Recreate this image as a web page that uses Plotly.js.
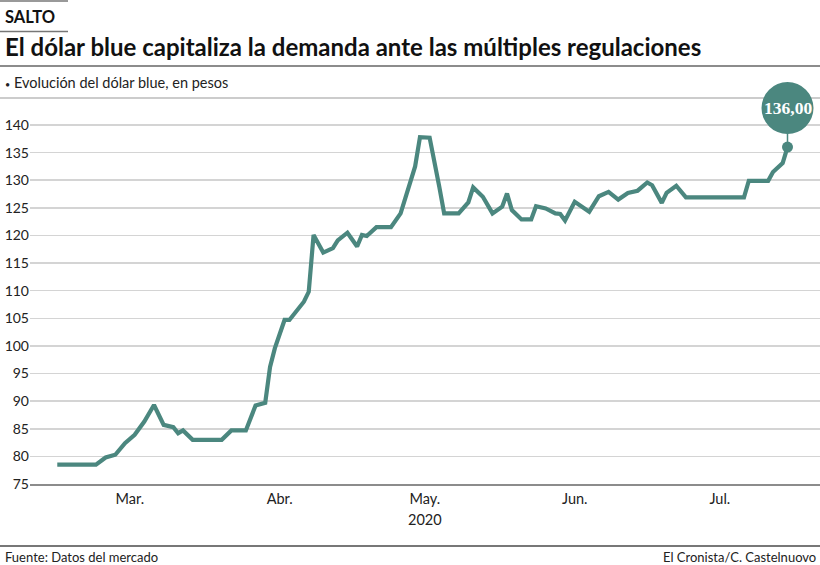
<!DOCTYPE html>
<html><head><meta charset="utf-8">
<script src="https://cdn.plot.ly/plotly-3.0.1.min.js"></script>
<style>html,body{margin:0;padding:0;background:#fff}#chart{width:820px;height:565px}</style>
</head><body><div id="chart"></div>
<script>
// ---- data ----
const dates = [
 '2020-02-29','2020-03-08','2020-03-10','2020-03-12','2020-03-14','2020-03-16','2020-03-18','2020-03-20',
 '2020-03-22','2020-03-24','2020-03-25','2020-03-26','2020-03-28','2020-04-03','2020-04-05','2020-04-08',
 '2020-04-10','2020-04-12','2020-04-13','2020-04-14','2020-04-16','2020-04-17','2020-04-20','2020-04-21',
 '2020-04-22','2020-04-24','2020-04-26','2020-04-27','2020-04-29','2020-05-01','2020-05-02','2020-05-03',
 '2020-05-05','2020-05-08','2020-05-10','2020-05-11','2020-05-13','2020-05-14','2020-05-16','2020-05-18',
 '2020-05-19','2020-05-22','2020-05-24','2020-05-25','2020-05-27','2020-05-29','2020-05-31','2020-06-01',
 '2020-06-02','2020-06-04','2020-06-06','2020-06-07','2020-06-09','2020-06-11','2020-06-12','2020-06-13',
 '2020-06-15','2020-06-18','2020-06-20','2020-06-22','2020-06-24','2020-06-26','2020-06-28','2020-06-30',
 '2020-07-01','2020-07-03','2020-07-04','2020-07-06','2020-07-08','2020-07-20','2020-07-21','2020-07-25',
 '2020-07-26','2020-07-28','2020-07-29'
];
const values = [
 78.5, 78.5, 79.8, 80.3, 82.4, 83.9, 86.3, 89.3,
 85.7, 85.3, 84.2, 84.7, 83.0, 83.0, 84.7, 84.7,
 89.2, 89.7, 96.2, 99.6, 104.7, 104.7, 108.0, 109.8,
 120.1, 116.9, 117.7, 119.1, 120.5, 118.0, 120.1, 119.9,
 121.5, 121.5, 124.0, 127.0, 132.5, 137.8, 137.7, 128.8,
 124.0, 124.0, 126.0, 128.7, 127.0, 124.0, 125.2, 127.6,
 124.6, 122.9, 122.9, 125.3, 124.9, 124.0, 123.9, 122.7,
 126.1, 124.3, 127.1, 127.9, 126.5, 127.7, 128.1, 129.6,
 129.1, 125.9, 127.7, 129.0, 126.9, 126.9, 129.9, 129.9,
 131.5, 133.1, 136.0
];
const tickDates = ['2020-03-15','2020-04-15','2020-05-15','2020-06-15','2020-07-15'];
const tickLabels = ['Mar.','Abr.','May.','Jun.','Jul.'];
const yearLabel = '2020';
const yTicks = [75,80,85,90,95,100,105,110,115,120,125,130,135,140];

// ---- layout helpers ----
const W = 820, H = 565;
const M = {l:30, r:0, t:75, b:81};
const pw = W - M.l - M.r, ph = H - M.t - M.b;
const px = x => (x - M.l) / pw;        // pixel x -> paper
const py = y => (H - M.b - y) / ph;    // pixel y -> paper

const TEAL = '#4b877f';
const FONT = 'Lato, "Open Sans", sans-serif';
const last = dates.length - 1;
const lastText = values[last].toFixed(2).replace('.', ',');

const traces = [
  {x: dates, y: values, type: 'scatter', mode: 'lines',
   line: {color: TEAL, width: 4.2, shape: 'linear'}, hoverinfo: 'skip'},
  {x: [dates[last]], y: [values[last]], type: 'scatter', mode: 'markers',
   marker: {color: TEAL, size: 11}, hoverinfo: 'skip'}
];

function hline(y, x0, x1, color, w) {
  return {type: 'line', xref: 'paper', yref: 'paper', x0: px(x0), x1: px(x1), y0: py(y), y1: py(y),
          line: {color: color, width: w}};
}

const layout = {
  width: W, height: H, margin: M, showlegend: false,
  paper_bgcolor: '#fff', plot_bgcolor: '#fff',
  font: {family: FONT, color: '#222'},
  xaxis: {
    type: 'date', range: ['2020-02-23 08:40', '2020-08-04 17:17'],
    tickmode: 'array', tickvals: tickDates, ticktext: tickLabels,
    showgrid: false, zeroline: false, showline: true, linecolor: '#8c8c8c', linewidth: 1.5,
    ticks: 'outside', ticklen: 1, tickcolor: 'rgba(0,0,0,0)',
    tickfont: {family: FONT, size: 14.5, color: '#222'}, fixedrange: true
  },
  yaxis: {
    range: [75, 149.053], tickmode: 'array', tickvals: yTicks,
    showgrid: true, gridcolor: '#d4d4d4', gridwidth: 1.5, zeroline: false, showline: false,
    ticks: '', tickfont: {family: FONT, size: 14, color: '#222'}, fixedrange: true
  },
  shapes: [
    hline(1, 0, 68, '#777', 1.5),
    hline(31.5, 0, 68, '#777', 1.5),
    hline(66, 0, 820, '#666', 1.5),
    hline(98, 0, 820, '#999', 1.2),
    hline(546, 0, 820, '#777', 2),
    {type: 'line', xref: 'x', yref: 'y', xsizemode: 'pixel', ysizemode: 'pixel',
     xanchor: dates[last], yanchor: values[last], x0: 0, x1: 0, y0: 0, y1: 16,
     line: {color: TEAL, width: 1.5}},
    {type: 'circle', xref: 'x', yref: 'y', xsizemode: 'pixel', ysizemode: 'pixel',
     xanchor: dates[last], yanchor: values[last], x0: -26, x1: 26, y0: 13, y1: 65,
     fillcolor: TEAL, line: {width: 0}}
  ],
  annotations: [
    {xref: 'paper', yref: 'paper', x: px(3), y: py(17), xanchor: 'left', yanchor: 'middle',
     text: 'SALTO', showarrow: false, font: {family: FONT, size: 16.5, weight: 'bold', color: '#111'}},
    {xref: 'paper', yref: 'paper', x: px(3), y: py(47), xanchor: 'left', yanchor: 'middle',
     text: 'El dólar blue capitaliza la demanda ante las múltiples regulaciones', showarrow: false,
     font: {family: FONT, size: 24, weight: 'bold', color: '#111'}},
    {xref: 'paper', yref: 'paper', x: px(3), y: py(82), xanchor: 'left', yanchor: 'middle',
     text: '<span style="font-size:9px">•</span> Evolución del dólar blue, en pesos', showarrow: false,
     font: {family: FONT, size: 14.5, color: '#222'}},
    {xref: 'x', yref: 'paper', x: tickDates[2], y: py(519), xanchor: 'center', yanchor: 'middle',
     text: yearLabel, showarrow: false, font: {family: FONT, size: 14.5, color: '#222'}},
    {xref: 'paper', yref: 'paper', x: px(3), y: py(557), xanchor: 'left', yanchor: 'middle',
     text: 'Fuente: Datos del mercado', showarrow: false, font: {family: FONT, size: 13, color: '#222'}},
    {xref: 'paper', yref: 'paper', x: px(818), y: py(557), xanchor: 'right', yanchor: 'middle',
     text: 'El Cronista/C. Castelnuovo', showarrow: false, font: {family: FONT, size: 13, color: '#222'}},
    {xref: 'x', yref: 'y', x: dates[last], y: values[last], yshift: 39, xanchor: 'center', yanchor: 'middle',
     text: lastText, showarrow: false,
     font: {family: '"Liberation Serif", "DejaVu Serif", serif', size: 17.5, weight: 'bold', color: '#fff'}}
  ]
};

Plotly.newPlot('chart', traces, layout, {displayModeBar: false, staticPlot: true});
</script>
</body></html>
